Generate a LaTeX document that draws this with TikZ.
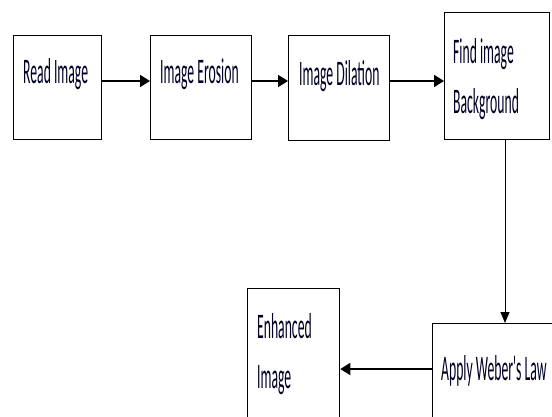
\documentclass[tikz,border=0pt]{standalone}
\usepackage{fontspec}
\newfontfamily\boxfont[FakeStretch=0.38]{Carlito}
\usetikzlibrary{arrows.meta}
\begin{document}
\begin{tikzpicture}[x=1pt,y=-1pt,
  box/.style={draw=black,line width=1.3pt,fill=white,inner sep=0pt,anchor=north west},
  lbl/.style={inner sep=0pt,anchor=base west,align=left,text=black!85!blue,font=\boxfont\fontsize{36}{50}\selectfont},
  conn/.style={line width=1.8pt,-{Triangle[length=10pt,width=12pt]}},
  thinconn/.style={line width=0.8pt,-{Triangle[length=11pt,width=9pt]}}]
\useasboundingbox (0,0) rectangle (552,416);
\clip (0,0) rectangle (552,416);
\node[box,minimum width=88pt,minimum height=104pt] (b1) at (13,35) {};
\node[box,minimum width=101pt,minimum height=104pt] (b2) at (150,35) {};
\node[box,minimum width=101pt,minimum height=105pt] (b3) at (288,35) {};
\node[box,minimum width=105pt,minimum height=127pt] (b4) at (444,12) {};
\node[box,minimum width=130pt,minimum height=110pt] (b5) at (432,323) {};
\node[box,minimum width=92pt,minimum height=140pt] (b6) at (247,288) {};
\node[lbl] (t1) at (23,83) {Read Image};
\node[lbl] (t2) at (160,83) {Image Erosion};
\node[lbl] (t3) at (299,85) {Image Dilation};
\node[lbl] (t4) at (453,63) {Find image};
\node[lbl] (t4b) at (453,113) {Background};
\node[lbl] (t5) at (441,380) {Apply Weber's Law};
\node[lbl] (t6) at (257,338) {Enhanced};
\node[lbl] (t6b) at (257,388) {Image};
\coordinate (row) at (0,81);
\coordinate (col) at (505,0);
\coordinate (row2) at (0,369);
\draw[conn] (b1.east |- row) -- (b2.west |- row);
\draw[conn] (b2.east |- row) -- (b3.west |- row);
\draw[conn] (b3.east |- row) -- (b4.west |- row);
\draw[thinconn] (b4.south -| col) -- (b5.north -| col);
\draw[conn] (b5.west |- row2) -- (b6.east |- row2);
\end{tikzpicture}
\end{document}
